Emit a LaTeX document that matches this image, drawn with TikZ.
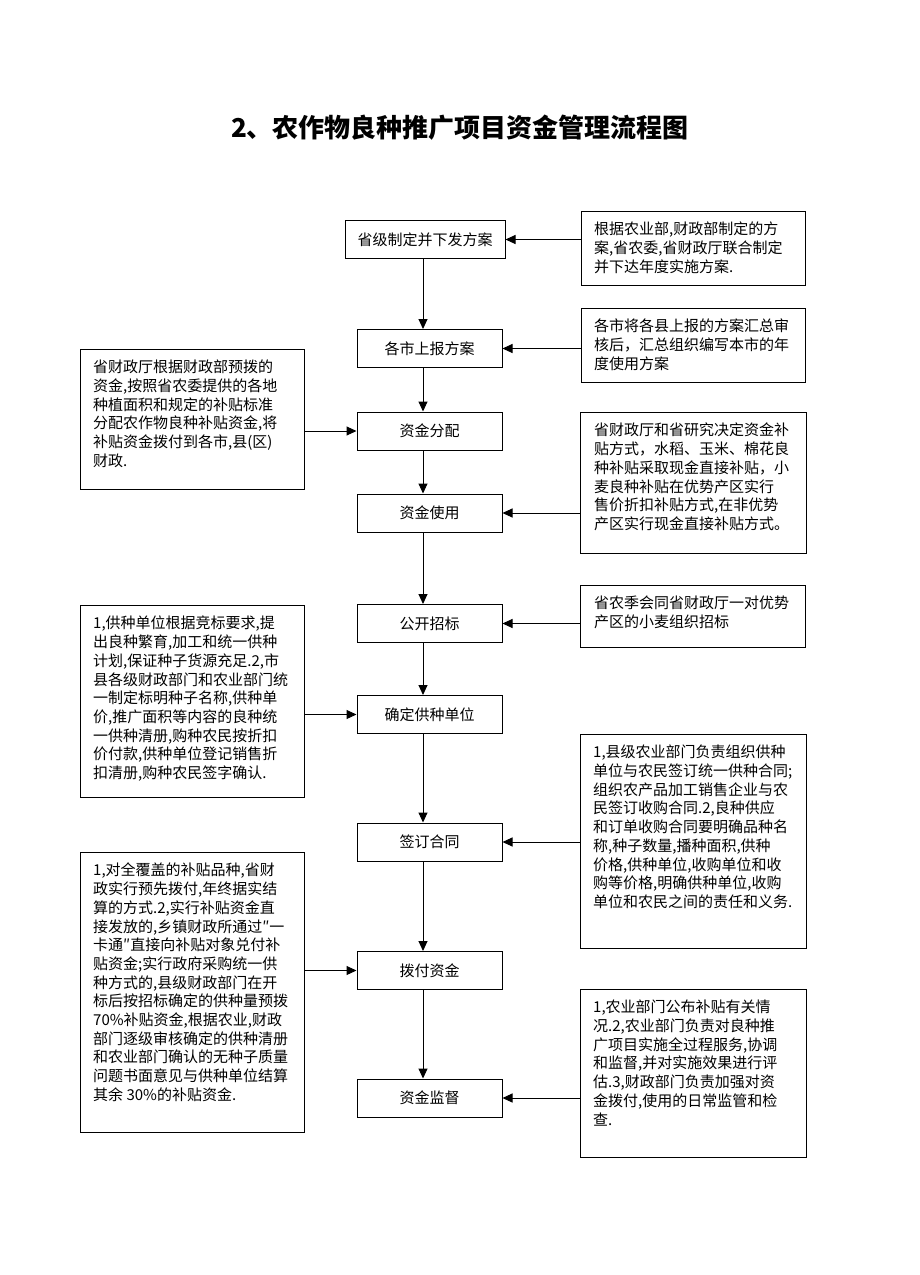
\documentclass[tikz,border=0pt]{standalone}
\usepackage{fontspec}
\setmainfont{Noto Sans CJK SC}
\usetikzlibrary{positioning,arrows.meta}
\tikzset{
    flowbox/.style={draw, line width=1pt, minimum width=145pt, minimum height=38pt, inner sep=0pt, font=\fontsize{15pt}{18pt}\selectfont},
    notebox/.style={draw, line width=1pt, anchor=north west, inner sep=0pt},
    notetext/.style={anchor=north west, inner sep=0pt, align=left, font=\fontsize{15pt}{18.7pt}\selectfont},
    arr/.style={line width=1pt, -{Triangle[length=10pt,width=9pt]}}
}

\begin{document}
\begin{tikzpicture}[x=1pt,y=-1pt]
    \useasboundingbox (0,0) rectangle (920,1275);

    \node[font=\fontsize{26pt}{30pt}\selectfont\bfseries] (title) at (460,128) {2、农作物良种推广项目资金管理流程图};

    % main steps
    \node[flowbox, minimum width=160pt] (b1) at (425,239.5) {省级制定并下发方案};
    \node[flowbox] (b2) at (429.5,348.5) {各市上报方案};
    \node[flowbox] (b3) at (429.5,431) {资金分配};
    \node[flowbox] (b4) at (429.5,513) {资金使用};
    \node[flowbox] (b5) at (429.5,623.5) {公开招标};
    \node[flowbox] (b6) at (429.5,714.5) {确定供种单位};
    \node[flowbox] (b7) at (429.5,842) {签订合同};
    \node[flowbox] (b8) at (429.5,970.5) {拨付资金};
    \node[flowbox] (b9) at (429.5,1098) {资金监督};

    \coordinate (ax) at (423,0);
    \foreach \a/\b in {b1/b2,b2/b3,b3/b4,b4/b5,b5/b6,b6/b7,b7/b8,b8/b9}
        \draw[arr] (\a.south -| ax) -- (\b.north -| ax);

    % right notes
    \node[notebox, minimum width=224pt, minimum height=74pt] (r1) at (581,211) {};
    \node[notetext] (r1t) at ([shift={(13,11)}]r1.north west) {根据农业部,财政部制定的方\\案,省农委,省财政厅联合制定\\并下达年度实施方案.};
    \node[notebox, minimum width=224pt, minimum height=74pt] (r2) at (581,308) {};
    \node[notetext] (r2t) at ([shift={(13,11)}]r2.north west) {各市将各县上报的方案汇总审\\核后，汇总组织编写本市的年\\度使用方案};
    \node[notebox, minimum width=226pt, minimum height=141pt] (r3) at (580,412) {};
    \node[notetext] (r3t) at ([shift={(14,11)}]r3.north west) {省财政厅和省研究决定资金补\\贴方式，水稻、玉米、棉花良\\种补贴采取现金直接补贴，小\\麦良种补贴在优势产区实行\\售价折扣补贴方式,在非优势\\产区实行现金直接补贴方式。};
    \node[notebox, minimum width=225pt, minimum height=62pt] (r4) at (580,585) {};
    \node[notetext] (r4t) at ([shift={(14,11)}]r4.north west) {省农季会同省财政厅一对优势\\产区的小麦组织招标};
    \node[notebox, minimum width=226pt, minimum height=214pt] (r5) at (580,734) {};
    \node[notetext] (r5t) at ([shift={(13,11)}]r5.north west) {1,县级农业部门负责组织供种\\单位与农民签订统一供种合同;\\组织农产品加工销售企业与农\\民签订收购合同.2,良种供应\\和订单收购合同要明确品种名\\称,种子数量,播种面积,供种\\价格,供种单位,收购单位和收\\购等价格,明确供种单位,收购\\单位和农民之间的责任和义务.};
    \node[notebox, minimum width=226pt, minimum height=168pt] (r6) at (580,989) {};
    \node[notetext] (r6t) at ([shift={(13,11)}]r6.north west) {1,农业部门公布补贴有关情\\况.2,农业部门负责对良种推\\广项目实施全过程服务,协调\\和监督,并对实施效果进行评\\估.3,财政部门负责加强对资\\金拨付,使用的日常监管和检\\查.};

    % left notes
    \node[notebox, minimum width=224pt, minimum height=140pt] (l1) at (80,349) {};
    \node[notetext] (l1t) at ([shift={(13,11)}]l1.north west) {省财政厅根据财政部预拨的\\资金,按照省农委提供的各地\\种植面积和规定的补贴标准\\分配农作物良种补贴资金,将\\补贴资金拨付到各市,县(区)\\财政.};
    \node[notebox, minimum width=224pt, minimum height=192pt] (l2) at (80,605) {};
    \node[notetext] (l2t) at ([shift={(13,11)}]l2.north west) {1,供种单位根据竞标要求,提\\出良种繁育,加工和统一供种\\计划,保证种子货源充足.2,市\\县各级财政部门和农业部门统\\一制定标明种子名称,供种单\\价,推广面积等内容的良种统\\一供种清册,购种农民按折扣\\价付款,供种单位登记销售折\\扣清册,购种农民签字确认.};
    \node[notebox, minimum width=224pt, minimum height=280pt] (l3) at (80,852) {};
    \node[notetext] (l3t) at ([shift={(13,11)}]l3.north west) {1,对全覆盖的补贴品种,省财\\政实行预先拨付,年终据实结\\算的方式.2,实行补贴资金直\\接发放的,乡镇财政所通过″一\\卡通″直接向补贴对象兑付补\\贴资金;实行政府采购统一供\\种方式的,县级财政部门在开\\标后按招标确定的供种量预拨\\70\%补贴资金,根据农业,财政\\部门逐级审核确定的供种清册\\和农业部门确认的无种子质量\\问题书面意见与供种单位结算\\其余 30\%的补贴资金.};

    % side arrows
    \foreach \n/\b in {r1/b1,r2/b2,r3/b4,r4/b5,r5/b7,r6/b9}
        \draw[arr] (\n.west |- \b.east) -- (\b.east);
    \foreach \n/\b in {l1/b3,l2/b6,l3/b8}
        \draw[arr] (\n.east |- \b.west) -- (\b.west);
\end{tikzpicture}
\end{document}
